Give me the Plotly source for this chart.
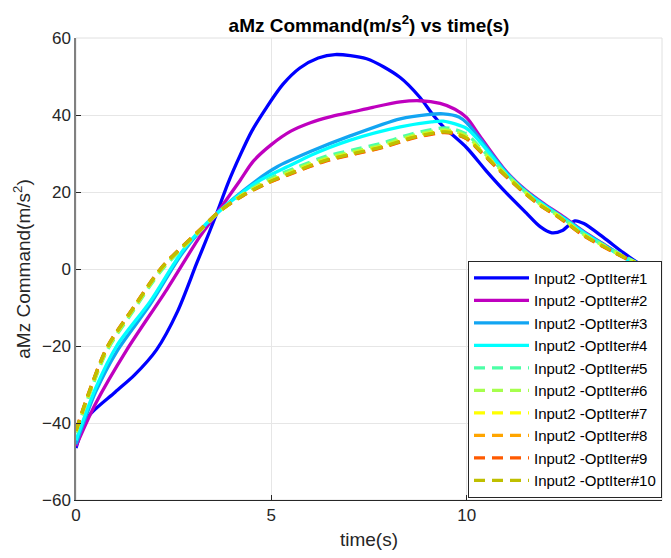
import plotly.graph_objects as go

# ---------------- data ----------------
t1 = [0, 0.3, 1.0, 1.5, 2.06, 2.6, 3.09, 3.43, 3.6, 3.9, 4.2, 4.5, 4.88, 5.3, 5.73, 6.2, 6.63, 7.44, 8.29, 8.8, 9.14, 9.4, 10.0, 10.5, 11.02, 11.53, 11.88, 12.18, 12.45, 12.77, 13.0, 13.5, 14.0, 14.4, 14.75]
v1 = [-46.5, -38.5, -32, -27.5, -21, -11, 1.5, 10, 14.4, 22.5, 29.5, 35.8, 42.0, 48.0, 52.2, 54.8, 55.7, 54.6, 49.8, 44.6, 40.0, 37.0, 31.5, 25.5, 19.7, 14.5, 11.0, 9.4, 10.0, 12.5, 11.8, 8.2, 4.3, 1.5, -0.3]

t2 = [0, 0.5, 1.3, 2.32, 3.17, 3.6, 4.2, 4.54, 5.0, 5.5, 6.0, 6.5, 7.0, 7.6, 8.3, 8.8, 9.32, 9.7, 10.0, 10.34, 11.0, 11.5, 12.0, 12.5, 13.0, 13.5, 14.0, 14.4, 14.75]
v2 = [-46, -35, -21, -5.4, 8.4, 14.4, 23, 28.0, 32.3, 35.8, 38.0, 39.5, 40.6, 42.0, 43.4, 43.7, 43.0, 41.5, 39.3, 34.5, 25.5, 20.6, 16.8, 13.4, 9.7, 6.5, 3.3, 1.2, -0.3]

t3 = [0, 0.5, 1.04, 1.9, 2.75, 3.6, 4.62, 5.14, 6.0, 7.0, 8.3, 9.0, 9.4, 9.8, 10.0, 10.34, 11.0, 11.5, 12.0, 12.5, 13.0, 13.5, 14.0, 14.4, 14.75]
v3 = [-45.5, -32, -21.5, -9.2, 4.5, 14.4, 23.0, 26.5, 30.5, 34.5, 39.0, 40.1, 40.3, 39.5, 38.0, 33.8, 25.3, 20.4, 16.6, 13.2, 9.6, 6.4, 3.2, 1.1, -0.3]

t4 = [0, 0.5, 1.04, 1.9, 2.75, 3.6, 4.62, 5.5, 6.0, 7.0, 8.3, 9.1, 9.4, 10.0, 10.34, 11.0, 11.5, 12.0, 12.5, 13.0, 13.5, 14.0, 14.4, 14.75]
v4 = [-44.5, -31, -20, -8.4, 5.0, 14.4, 22.5, 27.0, 29.5, 33.4, 36.9, 38.2, 38.4, 36.5, 33.0, 25.0, 20.1, 16.4, 13.0, 9.4, 6.2, 3.1, 1.1, -0.3]

td = [0, 0.3, 0.79, 1.47, 2.19, 3.17, 3.65, 4.28, 4.9, 5.6, 6.41, 7.2, 7.87, 8.63, 9.34, 9.6, 10.0, 10.34, 10.81, 11.36, 11.88, 12.35, 12.99, 13.76, 14.44, 14.75]
v5 = [-42.5, -33.8, -21.3, -10.8, -0.3, 9.8, 14.7, 19.6, 23.2, 26.2, 29.3, 31.2, 32.8, 35.2, 36.6, 36.5, 35.0, 31.6, 26.7, 21.4, 17.0, 14.0, 9.2, 4.8, 1.2, -0.3]
v6 = [-42.3, -33.5, -21.0, -10.5, 0.0, 9.9, 14.7, 19.4, 22.8, 25.8, 28.8, 30.7, 32.3, 34.7, 36.1, 36.0, 34.5, 31.2, 26.4, 21.2, 16.8, 13.8, 9.0, 4.6, 1.1, -0.3]
v7 = [-42.1, -33.2, -20.7, -10.2, 0.2, 10.0, 14.8, 19.3, 22.5, 25.4, 28.4, 30.3, 31.9, 34.3, 35.7, 35.6, 34.1, 30.9, 26.2, 21.0, 16.7, 13.7, 8.9, 4.5, 1.0, -0.3]
v8 = [-42.0, -33.0, -20.5, -10.1, 0.3, 10.1, 14.8, 19.1, 22.3, 25.2, 28.2, 30.1, 31.7, 34.1, 35.5, 35.4, 33.9, 30.7, 26.0, 20.8, 16.5, 13.5, 8.7, 4.4, 0.9, -0.3]
v9 = [-41.9, -32.9, -20.4, -10.0, 0.4, 10.2, 14.8, 19.1, 22.3, 25.1, 28.1, 30.0, 31.6, 34.0, 35.4, 35.3, 33.8, 30.6, 25.9, 20.8, 16.5, 13.5, 8.7, 4.4, 0.9, -0.3]
v10 = [-42.0, -33.0, -20.5, -10.1, 0.3, 10.1, 14.8, 19.2, 22.4, 25.3, 28.3, 30.2, 31.8, 34.2, 35.6, 35.5, 34.0, 30.8, 26.1, 20.9, 16.6, 13.6, 8.8, 4.5, 1.0, -0.3]

names = ["Input2 -OptIter#%d" % i for i in range(1, 11)]
xs = [t1, t2, t3, t4, td, td, td, td, td, td]
ys = [v1, v2, v3, v4, v5, v6, v7, v8, v9, v10]
colors = ["#0000FF", "#BF00BF", "#12A5F2", "#00FFFF", "#4DFFA6",
          "#A6FF4D", "#FFFF00", "#FFA500", "#FF5A00", "#BFBF00"]
dashes = ["solid"] * 4 + ["11px,7px"] * 6

x_ticks = [0, 5, 10, 15]
y_ticks = [-60, -40, -20, 0, 20, 40, 60]

fig = go.Figure()
for x, y, n, c, d in zip(xs, ys, names, colors, dashes):
    fig.add_trace(go.Scatter(x=x, y=y, name=n, mode="lines",
                             line=dict(color=c, width=3.3, dash=d, shape="spline", smoothing=0.8)))

tick_font = dict(family="Liberation Sans, Arial, sans-serif", size=17, color="#262626")
fig.update_layout(
    width=671, height=558,
    margin=dict(l=76, r=9, t=38, b=58),
    paper_bgcolor="white", plot_bgcolor="white",
    font=dict(family="Liberation Sans, Arial, sans-serif", color="#262626"),
    title=dict(text="<b>aMz Command(m/s<sup>2</sup>) vs time(s)</b>",
               x=(76 + 662) / 2 / 671, xanchor="center",
               y=1 - 25 / 558, yanchor="middle", yref="container",
               font=dict(size=19, color="#000000")),
    xaxis=dict(range=[0, 15], tickvals=x_ticks, showgrid=True, gridcolor="#E6E6E6",
               zeroline=False, showline=True, linecolor="#262626", linewidth=1,
               ticks="inside", ticklen=5, tickcolor="#262626", tickfont=tick_font,
               title=dict(text="time(s)", font=dict(size=19, color="#262626"), standoff=8)),
    yaxis=dict(range=[-60, 60], tickvals=y_ticks, showgrid=True, gridcolor="#E6E6E6",
               zeroline=False, showline=True, linecolor="#808080", linewidth=1.5,
               ticks="inside", ticklen=5, tickcolor="#262626", tickfont=tick_font,
               title=dict(text="aMz Command(m/s<sup>2</sup>)", font=dict(size=19, color="#262626"), standoff=6)),
    legend=dict(x=1, y=0.005, xanchor="right", yanchor="bottom",
                bgcolor="white", bordercolor="#262626", borderwidth=1,
                font=dict(size=15, color="#000000"), itemwidth=55,
                tracegroupgap=0),
    showlegend=True,
)
fig.add_shape(type="rect", xref="x domain", yref="y domain", x0=0, y0=0, x1=1, y1=1,
              line=dict(color="#E0E0E0", width=1), layer="below")
fig.write_html("out.html")
